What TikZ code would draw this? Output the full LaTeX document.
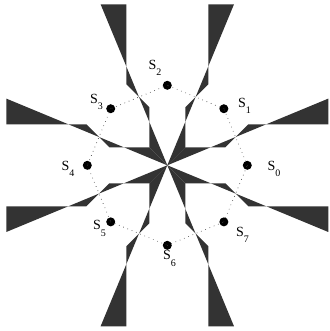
\documentclass[tikz,border=0pt]{standalone}
\usepackage{fontspec}
\setmainfont{Liberation Serif}
\definecolor{armgray}{HTML}{333333}
\begin{document}
\begin{tikzpicture}[x=1pt,y=1pt,
  arm/.style={fill=armgray},
  sdot/.style={circle,fill=black,inner sep=0pt,minimum size=9pt},
  slabel/.style={inner sep=0pt,font=\fontsize{14}{14}\selectfont},
  octedge/.style={draw=black!75,line width=0.9pt,line cap=round,dash pattern=on 0pt off 4.6pt}]
\useasboundingbox (-167.3,-165.7) rectangle (161.7,165.3);
% points S_k
\foreach \k in {0,...,7} \node[sdot] (s\k) at (\k*45:80) {};
% dotted octagon
\foreach \a/\b in {0/1,1/2,2/3,3/4,4/5,5/6,6/7,7/0}
  \draw[octedge] (s\a.center) -- (s\b.center);
% arms
\foreach \r in {0,90,180,270} {
  \fill[arm,rotate=\r] (0,0) -- (18,18) -- (18,58) -- (41,81) -- (41,161) -- (66.7,161) -- cycle;
  \fill[arm,rotate=\r,cm={0,1,1,0,(0,0)}] (0,0) -- (18,18) -- (18,58) -- (41,81) -- (41,161) -- (66.7,161) -- cycle;
}
% labels
\newcommand{\slab}[1]{S\raisebox{-6.5pt}{\fontsize{10}{10}\selectfont #1}}
\node[slabel] (l0) at (106.7,-3.7) {\slab{0}};
\node[slabel] (l1) at (77.2,59.3) {\slab{1}};
\node[slabel] (l2) at (-12.3,97.3) {\slab{2}};
\node[slabel] (l3) at (-70.8,63.3) {\slab{3}};
\node[slabel] (l4) at (-99.3,-3.7) {\slab{4}};
\node[slabel] (l5) at (-67.8,-63.2) {\slab{5}};
\node[slabel] (l6) at (2.2,-93.2) {\slab{6}};
\node[slabel] (l7) at (75.2,-69.7) {\slab{7}};
\end{tikzpicture}
\end{document}
